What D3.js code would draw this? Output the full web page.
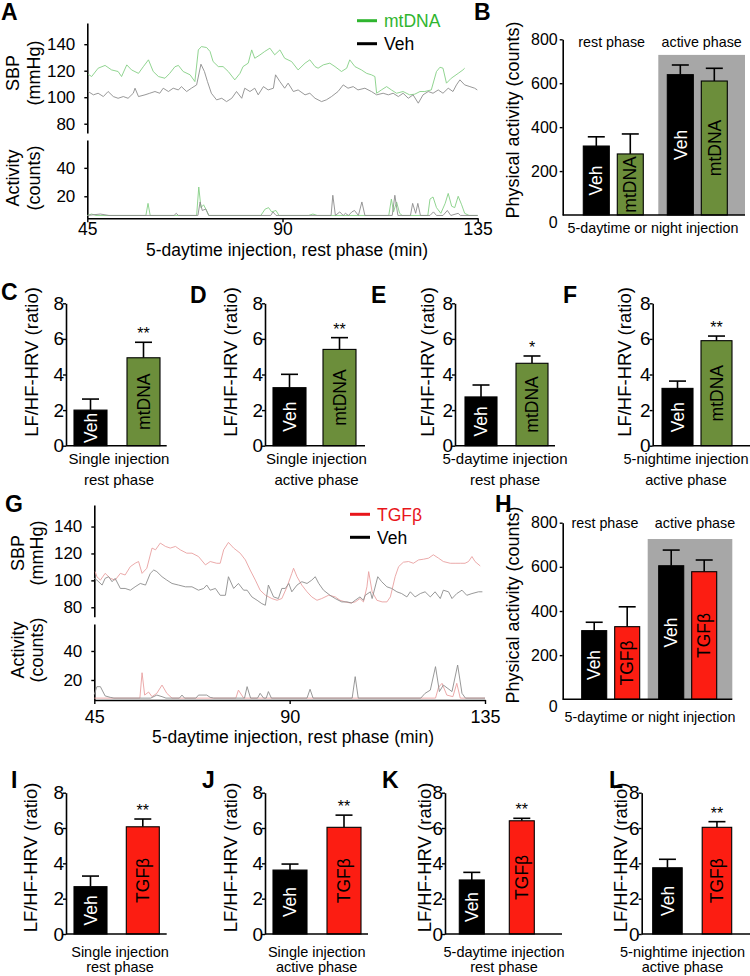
<!DOCTYPE html>
<html><head><meta charset="utf-8">
<script src="https://cdn.jsdelivr.net/npm/d3@7"></script>
<style>body{margin:0;background:#fff}svg text{font-family:"Liberation Sans",Arial,Helvetica,sans-serif}</style>
</head><body><svg id="fig" width="750" height="976"></svg>
<script>
// ---------------- DATA ----------------
const minuteTicks = [45, 90, 135];
const sbpTicks = [80, 100, 120, 140];
const actTicks = [20, 40];
// Panel A: SBP traces [minute, mmHg]
const mtdnaSBP = [[45.2,117.4],[46.0,115.6],[47.5,121.9],[49.1,124],[50.6,120.6],[52.1,119.4],[52.9,115.6],[54.1,124.4],[55.2,120.6],[56.8,118],[57.9,123],[59.1,128.2],[60.2,119.4],[61.4,115.6],[62.9,114.3],[64.0,118],[65.2,123],[66.0,124],[67.1,119.4],[68.7,116.9],[69.8,111.8],[70.6,135.7],[71.3,138.2],[72.5,137.5],[73.3,134.5],[74.0,126.9],[75.2,123.1],[76.3,123.1],[77.5,119.4],[79.0,113.1],[80.2,118],[80.9,123.1],[82.1,125.7],[82.9,135.7],[83.6,129.4],[84.8,131.9],[85.9,134.5],[87.1,137],[88.2,132],[89.4,135.7],[90.5,129.4],[92.1,126.9],[93.6,120.6],[95.2,125.7],[96.3,128.2],[97.5,123.1],[98.2,121.9],[99.4,124.4],[100.9,125.7],[102.1,123.1],[103.6,119.4],[104.8,121.9],[105.5,128.2],[106.7,123.1],[108.2,120.6],[109.4,118],[110.5,116.9],[111.3,115.6],[111.7,103],[112.8,105.5],[114.0,108],[115.1,105.5],[116.3,103],[117.8,104.3],[119.3,101.8],[120.5,102.3],[121.7,104.3],[122.8,104.3],[124.3,105.5],[125.5,119.4],[126.3,122.6],[127.0,121.9],[127.8,110.6],[128.9,114.3],[130.5,118],[131.6,120.6],[132.0,121.9]];
const vehSBP_A = [[45.2,104.3],[46.4,101.8],[47.5,103],[48.7,100.5],[49.8,104.3],[51.0,100.5],[52.1,99.2],[53.3,100.5],[54.4,99.2],[55.6,103],[56.0,106.8],[56.8,100.5],[58.3,101.8],[59.4,103],[60.6,104.3],[61.7,103],[62.5,106.8],[63.7,104.3],[64.8,106.8],[66.0,105.5],[66.7,108],[67.9,104.3],[69.0,106.8],[70.2,109.3],[71.2,124.9],[72.0,119.4],[72.7,111.8],[73.6,103],[74.8,98],[76.0,99.2],[77.1,96.7],[78.3,99.2],[79.4,104.3],[80.6,99.2],[81.3,106.8],[82.5,104.3],[83.6,106.8],[84.4,101.8],[85.6,108],[86.7,105.5],[87.9,106.8],[88.4,116.9],[89.4,111.8],[90.5,106.8],[91.3,110.6],[92.5,104.3],[93.6,105.5],[95.2,101.8],[96.3,103],[97.5,99.2],[99.0,96.7],[100.1,98],[101.3,100.5],[102.8,104.3],[104.0,109.3],[105.1,106.8],[106.3,108],[107.4,105.5],[109.0,106.8],[110.5,104.3],[111.7,101.8],[113.2,103],[114.4,101.8],[115.5,103],[116.7,100.5],[117.8,103],[119.0,99.2],[120.1,101.8],[121.3,95.5],[122.4,101.8],[123.6,104.3],[124.7,103],[125.9,105.5],[127.0,103],[128.2,106.8],[129.3,104.3],[130.1,109.3],[130.9,113.1],[132.0,109.3],[133.2,108],[134.3,106.8],[134.9,105.5]];
// Panel A: activity traces [minute, counts]
const mtdnaAct = [[45,6.5],[46,7.5],[47,6.5],[58.5,6.5],[59,15],[59.5,6.5],[70.2,6.5],[70.7,26.5],[71.2,12],[71.8,14],[72.5,10],[73,6.5],[85,6.5],[86,11],[86.8,12],[87.5,9],[88.5,10],[89.2,6.5],[96,6.5],[97,7.5],[98,6.5],[114.5,6.5],[115.1,18],[115.6,9],[116.3,16],[117,8],[117.6,6.5],[123.5,6.5],[124,18],[124.7,19.5],[125.5,12],[126.5,8],[127.5,15],[128.2,22],[129,13],[129.7,12],[130.5,20],[131.3,14],[132,8],[133,6.5],[135,6.5]];
const vehAct_A = [[45,6.5],[48,7.5],[50,6.5],[65,6.5],[65.5,8],[66,6.5],[70.5,6.5],[71,16],[71.5,10],[72.3,11],[73,6.5],[87.3,6.5],[87.8,9],[88.5,6.5],[101.2,6.5],[101.6,20.7],[102.2,6.5],[103.2,9],[104,6.5],[104.5,8],[105.2,6.5],[106,9],[106.6,10],[107.5,6.5],[108.3,16],[109,6.5],[115.3,6.5],[115.9,20.7],[116.6,6.5],[119.5,6.5],[120,15],[120.7,8],[121.2,15],[121.8,6.5],[124,6.5],[124.8,9],[125.5,6.5],[127,6.5],[128,10],[128.8,6.5],[130.5,8],[131,6.5],[135,6.5]];
// Panel G: SBP traces
const tgfSBP = [[45.2,106.5],[45.6,102.7],[46.4,100.2],[47.5,105.2],[48.7,101.5],[49.8,100.2],[51.0,105.2],[52.1,104],[53.3,110.2],[54.4,112.7],[55.2,114],[56.0,105.2],[57.1,109],[58.3,124],[59.1,122.7],[60.2,127.7],[61.4,125.2],[62.5,124],[63.7,125.2],[64.8,122.7],[66.3,120.2],[67.5,120.2],[69.0,117.7],[70.6,111.5],[71.7,114],[73.2,112.7],[74.0,112.7],[74.8,122.7],[75.9,128.2],[77.1,124],[78.6,120.2],[79.8,115.2],[80.9,107.7],[82.1,100.2],[83.2,92.7],[84.4,89],[85.9,86.5],[87.1,85.2],[88.2,86.5],[89.4,95.2],[90.5,105.2],[90.9,109],[91.7,102.7],[92.8,96.5],[94.0,91.5],[95.1,87.7],[96.3,85.2],[97.4,86.5],[99.0,89],[100.5,87.7],[101.6,85.2],[102.8,84],[104.0,83.2],[105.1,84],[106.2,86.5],[107.0,84],[107.8,95.2],[108.2,106.5],[109.0,91.5],[110.1,85.2],[111.3,84],[112.4,84],[113.2,87.7],[114.3,102.7],[115.1,110.2],[116.2,113.5],[117.4,114],[118.5,112.7],[119.7,115.2],[120.8,115.7],[122.0,116.5],[123.1,119],[124.3,116.5],[125.4,114],[127.0,112.7],[128.1,112.7],[129.3,112.7],[130.4,112.7],[131.2,114],[132.0,117.7],[132.7,114],[133.9,110.7]];
const vehSBP_G = [[45,101.5],[45.6,100.2],[46.8,96.5],[47.5,101.5],[48.3,102.7],[49.1,99],[49.8,101.5],[51.0,94],[52.1,94],[53.3,92.7],[54.4,95.2],[55.6,97.7],[56.8,96.5],[57.9,105.2],[58.7,107.7],[59.4,106.5],[60.6,102.7],[61.7,100.2],[62.9,97.7],[64.4,96.5],[66.0,95.2],[67.5,95.2],[69.0,92.7],[70.2,94],[70.9,96.5],[71.7,92.7],[72.9,94],[74.0,88.9],[75.2,88.9],[75.9,102.7],[77.1,94],[78.2,97.7],[79.4,92.7],[80.2,92.7],[81.3,87.7],[82.5,85.2],[83.6,82.7],[84.4,81.5],[85.1,96.5],[86.3,87.7],[87.4,86.5],[88.2,94],[89.0,94],[89.8,97.7],[90.5,91.5],[91.7,96.5],[92.8,99],[94.0,97.7],[95.1,100.2],[95.9,102.7],[96.7,97.7],[97.8,92.7],[99.3,88.9],[100.5,86.5],[102.0,84],[103.2,84],[104.3,83.2],[105.1,85.2],[106.2,87.7],[107.0,85.2],[107.4,88.9],[108.6,91.5],[109.0,86.5],[110.3,102.7],[111.2,99],[112.4,95.2],[113.5,94],[114.7,91.5],[115.8,90.2],[117.0,87.7],[117.8,91.5],[118.9,87.7],[120.1,90.2],[121.2,91.5],[122.4,87.7],[123.5,91.5],[124.7,86.5],[125.4,92.7],[126.6,91.5],[127.4,86.5],[128.5,90.2],[129.7,92.7],[130.8,88.9],[132.0,90.2],[133.5,91.5],[134.4,91.5]];
// Panel G: activity traces
const tgfAct = [[45,7.5],[55.5,7.5],[56.0,25],[56.6,9.6],[57.5,11.7],[58.3,8.5],[59.4,10.8],[60.6,16.5],[61.7,10.8],[62.9,7.5],[77.6,7.5],[78.2,13],[79.4,7.5],[123.6,7.5],[124.3,15],[125.1,17.7],[126.2,9.6],[127.6,8.5],[128.5,17.7],[129.3,7.5],[135,7.5]];
const vehAct_G = [[45,10],[45.6,15.4],[46.4,15.4],[47.5,9],[48.7,8],[49.5,7.5],[58,7.5],[59.4,9.6],[60.6,8.5],[61.5,7.5],[64.6,7.5],[65.2,9.6],[65.8,7.5],[68.4,7.5],[69.0,9.6],[70.9,9.6],[71.7,8],[72.5,7.5],[79.6,7.5],[80.2,15.4],[81,7.5],[82.6,7.5],[83.2,10.8],[84,7.5],[84.6,7.5],[85.1,12],[85.8,7.5],[94,7.5],[94.7,13.6],[95.4,7.5],[104.4,7.5],[105.1,22.3],[105.8,7.5],[120.2,7.5],[121.2,10.8],[122.4,13],[123.6,29.2],[124.5,12],[125.4,16.5],[127.4,12],[128.7,30.3],[129.7,10.8],[130.5,7.5],[135,7.5]];

// Panels B and H: physical activity (counts), mean and SEM per phase
const phases = ["rest phase", "active phase"];
const actTicksB = [0, 200, 400, 600, 800];
const bVehMean = [314, 639];
const bVehSem = [42, 44];
const bMtdnaMean = [278, 610];
const bMtdnaSem = [91, 58];
const hVehMean = [311, 605];
const hVehSem = [38, 71];
const hTgfMean = [329, 578];
const hTgfSem = [90, 53];
const activeShadeTop = [729, 726];

// Panels C-F, I-L: LF/HF-HRV ratio
const hrvLetters = ["C", "D", "E", "F", "I", "J", "K", "L"];
const hrvTreatment = ["mtDNA", "mtDNA", "mtDNA", "mtDNA", "TGFβ", "TGFβ", "TGFβ", "TGFβ"];
const hrvVehMean = [2.0, 3.26, 2.74, 3.22, 2.68, 3.62, 3.06, 3.75];
const hrvVehSem = [0.62, 0.75, 0.67, 0.41, 0.6, 0.34, 0.43, 0.48];
const hrvTrtMean = [4.94, 5.41, 4.63, 5.9, 6.07, 6.04, 6.41, 6.04];
const hrvTrtSem = [0.87, 0.66, 0.41, 0.26, 0.44, 0.69, 0.14, 0.32];
const hrvSig = ["**", "**", "*", "**", "**", "**", "**", "**"];
const hrvInjection = ["Single injection", "Single injection", "5-daytime injection", "5-nightime injection", "Single injection", "Single injection", "5-daytime injection", "5-nightime injection"];
const hrvPhase = ["rest phase", "active phase", "rest phase", "active phase", "rest phase", "active phase", "rest phase", "active phase"];
const hrvTicks = [0, 2, 4, 6, 8];

// ---------------- STYLE ----------------
const COLORS = {
  Veh: "#000000", mtDNA: "#6c8e3b", "TGFβ": "#fc1d12",
  vehLine: "#8c8c8c", mtLine: "#84cf84", tgfLine: "#e9a0a0",
  mtLegend: "#2fb52f", tgfLegend: "#e8161b", shade: "#a7a7a7"
};
const svg = d3.select("#fig");

function styleAxis(g, fs) {
  g.select(".domain").attr("stroke", "#000").attr("stroke-width", 1.6);
  g.selectAll(".tick line").attr("stroke", "#000").attr("stroke-width", 1.4);
  g.selectAll(".tick text").attr("font-size", fs).attr("fill", "#000")
    .attr("font-family", '"Liberation Sans",Arial,sans-serif');
}
function letter(t, x, y) {
  svg.append("text").attr("x", x).attr("y", y).attr("font-size", 23)
    .attr("font-weight", "bold").text(t);
}
function vtext(t, x, y, fs, fill) {
  svg.append("text").attr("transform", `translate(${x},${y}) rotate(-90)`)
    .attr("text-anchor", "middle").attr("font-size", fs).attr("fill", fill || "#000").text(t);
}
function htext(t, x, y, fs, fill, anchor) {
  svg.append("text").attr("x", x).attr("y", y).attr("text-anchor", anchor || "middle")
    .attr("font-size", fs).attr("fill", fill || "#000").text(t);
}

// ---------------- TRACE PANELS (A, G) ----------------
function tracePanel(o) {
  const x = d3.scaleLinear().domain([45, 135]).range([o.x0, o.x1]);
  const yS = d3.scaleLinear().domain([73, 156]).range([o.sBot, o.sTop]);
  const yA = d3.scaleLinear().domain(o.aDom).range([o.aBot, o.aTop]);
  const gS = svg.append("g").attr("transform", `translate(${o.x0},0)`)
    .call(d3.axisLeft(yS).tickValues(sbpTicks).tickSize(3).tickSizeOuter(0).tickPadding(9));
  styleAxis(gS, 17);
  const gA = svg.append("g").attr("transform", `translate(${o.x0},0)`)
    .call(d3.axisLeft(yA).tickValues(actTicks).tickSize(3).tickSizeOuter(0).tickPadding(9));
  styleAxis(gA, 17);
  const gX = svg.append("g").attr("transform", `translate(0,${o.aBot})`)
    .call(d3.axisBottom(x).tickValues(minuteTicks).tickSize(4).tickSizeOuter(0).tickPadding(o.xpad));
  styleAxis(gX, o.xfs);
  const lineS = d3.line().x(d => x(d[0])).y(d => yS(d[1]));
  const lineA = d3.line().x(d => x(d[0])).y(d => yA(d[1]));
  svg.append("path").datum(o.trtS).attr("d", lineS).attr("fill", "none").attr("stroke", o.trtLine).attr("stroke-width", 0.9);
  svg.append("path").datum(o.vehS).attr("d", lineS).attr("fill", "none").attr("stroke", COLORS.vehLine).attr("stroke-width", 0.9);
  svg.append("path").datum(o.trtA).attr("d", lineA).attr("fill", "none").attr("stroke", o.trtLine).attr("stroke-width", 0.9);
  svg.append("path").datum(o.vehA).attr("d", lineA).attr("fill", "none").attr("stroke", COLORS.vehLine).attr("stroke-width", 0.9);
  // legend
  svg.append("line").attr("x1", o.lgx).attr("x2", o.lgx + 20).attr("y1", o.lgy).attr("y2", o.lgy).attr("stroke", o.lgColor).attr("stroke-width", 3);
  htext(o.trtName, o.lgx + 27, o.lgy + 6.3, 17.5, o.lgColor, "start");
  svg.append("line").attr("x1", o.lgx).attr("x2", o.lgx + 20).attr("y1", o.lgy + 23).attr("y2", o.lgy + 23).attr("stroke", "#000").attr("stroke-width", 3);
  htext("Veh", o.lgx + 27, o.lgy + 29.3, 17.5, "#000", "start");
  // axis titles
  vtext("SBP", o.lab1x, o.sbpCy, 18);
  vtext("(mmHg)", o.lab2x, o.sbpCy, 18);
  vtext("Activity", o.lab1x, o.actCy, 18);
  vtext("(counts)", o.lab2x, o.actCy, 18);
  htext("5-daytime injection, rest phase (min)", o.titleX, o.titleY, 17.5);
}
tracePanel({x0: 87.3, x1: 477.7, sTop: 23, sBot: 133, aDom: [4.5, 59.6], aTop: 140, aBot: 218.3, xpad: 0.5, xfs: 17.5,
  trtS: mtdnaSBP, vehS: vehSBP_A, trtA: mtdnaAct, vehA: vehAct_A, trtLine: COLORS.mtLine,
  lgx: 357, lgy: 20.7, lgColor: COLORS.mtLegend, trtName: "mtDNA",
  lab1x: 18.5, lab2x: 40, sbpCy: 73, actCy: 178, titleX: 287, titleY: 256});
tracePanel({x0: 94.3, x1: 485, sTop: 505, sBot: 616.7, aDom: [6.2, 58.6], aTop: 624, aBot: 700, xpad: 6, xfs: 18,
  trtS: tgfSBP, vehS: vehSBP_G, trtA: tgfAct, vehA: vehAct_G, trtLine: COLORS.tgfLine,
  lgx: 350, lgy: 514.3, lgColor: COLORS.tgfLegend, trtName: "TGFβ",
  lab1x: 24, lab2x: 43, sbpCy: 553, actCy: 650, titleX: 293, titleY: 743});
letter("A", 1, 20);
letter("G", 5, 512);

// ---------------- ACTIVITY BAR PANELS (B, H) ----------------
function activityPanel(o) {
  const y = d3.scaleLinear().domain([0, 800]).range([o.y0, o.y1]);
  const xg = d3.scaleBand().domain(phases).range([o.gx0, o.gx1]).paddingInner(o.gpi);
  const xi = d3.scaleBand().domain(["Veh", o.trt]).range([0, xg.bandwidth()]).paddingInner(o.ipi);
  svg.append("rect").attr("x", o.boxX0).attr("width", o.axEnd - o.boxX0)
    .attr("y", y(o.shadeTop)).attr("height", y(0) - y(o.shadeTop)).attr("fill", COLORS.shade);
  const rows = [];
  phases.forEach((p, i) => {
    rows.push({p, t: "Veh", m: o.vehMean[i], s: o.vehSem[i]});
    rows.push({p, t: o.trt, m: o.trtMean[i], s: o.trtSem[i]});
  });
  rows.forEach(r => {
    const bx = xg(r.p) + xi(r.t), bw = xi.bandwidth(), cx = bx + bw / 2;
    svg.append("line").attr("x1", cx).attr("x2", cx).attr("y1", y(r.m)).attr("y2", y(r.m + r.s)).attr("stroke", "#000").attr("stroke-width", 1.6);
    svg.append("line").attr("x1", cx - 8.5).attr("x2", cx + 8.5).attr("y1", y(r.m + r.s)).attr("y2", y(r.m + r.s)).attr("stroke", "#000").attr("stroke-width", 1.6);
    svg.append("rect").attr("x", bx).attr("width", bw).attr("y", y(r.m)).attr("height", y(0) - y(r.m))
      .attr("fill", COLORS[r.t]).attr("stroke", "#000").attr("stroke-width", 1.1);
    vtext(r.t, cx + 6.2, (y(r.m) + y(0)) / 2, 17.5, r.t === "Veh" ? "#fff" : "#000");
  });
  const g = svg.append("g").attr("transform", `translate(${o.ax},0)`)
    .call(d3.axisLeft(y).tickValues(actTicksB).tickSize(3).tickSizeOuter(0).tickPadding(2));
  styleAxis(g, 16);
  g.selectAll(".tick").filter(d => d === 0).select("text").attr("transform", "translate(0,7)");
  g.selectAll(".tick").filter(d => d === 0).select("line").remove();
  svg.append("line").attr("x1", o.ax).attr("x2", o.axEnd).attr("y1", y(0)).attr("y2", y(0)).attr("stroke", "#000").attr("stroke-width", 1.6);
  phases.forEach((p, i) => htext(p, o.phaseX[i], o.phaseY, 14.3));
  htext("5-daytime or night injection", o.titleX, o.titleY, 14.3);
  vtext("Physical activity (counts)", o.ytx, o.yty, 18);
}
activityPanel({y0: 215, y1: 39.3, ax: 562.7, axEnd: 745, gx0: 583.3, gx1: 727.3, gpi: 0.286, ipi: 0.235,
  trt: "mtDNA", vehMean: bVehMean, vehSem: bVehSem, trtMean: bMtdnaMean, trtSem: bMtdnaSem,
  boxX0: 658.3, shadeTop: activeShadeTop[0], phaseX: [611.7, 701.7], phaseY: 47, titleX: 653, titleY: 233, ytx: 519, yty: 120});
activityPanel({y0: 699.3, y1: 522.7, ax: 562.7, axEnd: 732.3, gx0: 581.7, gx1: 716.7, gpi: 0.247, ipi: 0.242,
  trt: "TGFβ", vehMean: hVehMean, vehSem: hVehSem, trtMean: hTgfMean, trtSem: hTgfSem,
  boxX0: 647.7, shadeTop: activeShadeTop[1], phaseX: [605, 695], phaseY: 528, titleX: 650, titleY: 722, ytx: 519, yty: 605});
letter("B", 474, 20);
letter("H", 495, 512);

// ---------------- HRV PANELS ----------------
const hrvLayout = [
  {ax: 66, end: 166.7, top: 303.3, bot: 445.7, b0: 74, b1: 160, bw: 33, lx: 1, ly: 300, tx: 37.5, ty: 362, sx: 119, s1: 464, s2: 485, fs: 15},
  {ax: 265, end: 365, top: 303.3, bot: 445.7, b0: 273, b1: 356, bw: 33, lx: 190, ly: 303, tx: 237, ty: 362, sx: 316.5, s1: 464, s2: 485, fs: 15},
  {ax: 455, end: 555, top: 303.3, bot: 445.7, b0: 465, b1: 548, bw: 32, lx: 371, ly: 303, tx: 434, ty: 362, sx: 505, s1: 464, s2: 485, fs: 15},
  {ax: 652.7, end: 750, top: 303.3, bot: 445.7, b0: 662, b1: 732, bw: 31, lx: 563, ly: 303, tx: 630.5, ty: 362, sx: 686, s1: 464, s2: 485, fs: 14.5},
  {ax: 66, end: 166.7, top: 792.7, bot: 934, b0: 74, b1: 159.3, bw: 33, lx: 11, ly: 788, tx: 37, ty: 857.5, sx: 120, s1: 956.5, s2: 972, fs: 14.5},
  {ax: 265, end: 368, top: 792.7, bot: 934, b0: 273, b1: 361, bw: 34, lx: 202, ly: 788, tx: 237, ty: 857.5, sx: 316.7, s1: 956.5, s2: 972, fs: 14.5},
  {ax: 445, end: 562, top: 792.7, bot: 934, b0: 459.3, b1: 534.3, bw: 25, lx: 382, ly: 788, tx: 430.5, ty: 857.5, sx: 504, s1: 956.5, s2: 972, fs: 14.5},
  {ax: 641.7, end: 750, top: 792.7, bot: 934, b0: 652.7, b1: 731.7, bw: 29.5, lx: 609, ly: 788, tx: 627, ty: 857.5, sx: 682.5, s1: 956.5, s2: 972, fs: 14.5}
];
hrvLetters.forEach((L, i) => {
  const o = hrvLayout[i];
  const trt = hrvTreatment[i];
  const y = d3.scaleLinear().domain([0, 8]).range([o.bot, o.top]);
  const T = o.b1 - o.b0, step = T - o.bw;
  const x = d3.scaleBand().domain(["Veh", trt]).range([o.b0, o.b1]).paddingInner(1 - o.bw / step).paddingOuter(0);
  const rows = [{t: "Veh", m: hrvVehMean[i], s: hrvVehSem[i]}, {t: trt, m: hrvTrtMean[i], s: hrvTrtSem[i]}];
  rows.forEach(r => {
    const bx = x(r.t), bw = x.bandwidth(), cx = bx + bw / 2;
    svg.append("line").attr("x1", cx).attr("x2", cx).attr("y1", y(r.m)).attr("y2", y(r.m + r.s)).attr("stroke", "#000").attr("stroke-width", 1.6);
    svg.append("line").attr("x1", cx - 8.5).attr("x2", cx + 8.5).attr("y1", y(r.m + r.s)).attr("y2", y(r.m + r.s)).attr("stroke", "#000").attr("stroke-width", 1.6);
    svg.append("rect").attr("x", bx).attr("width", bw).attr("y", y(r.m)).attr("height", y(0) - y(r.m))
      .attr("fill", COLORS[r.t]).attr("stroke", "#000").attr("stroke-width", 1.1);
    vtext(r.t, cx + 6.2, (y(r.m) + y(0)) / 2, 17.5, r.t === "Veh" ? "#fff" : "#000");
  });
  const cxT = x(trt) + x.bandwidth() / 2;
  htext(hrvSig[i], cxT, y(hrvTrtMean[i] + hrvTrtSem[i]) - 3, 16);
  const g = svg.append("g").attr("transform", `translate(${o.ax},0)`)
    .call(d3.axisLeft(y).tickValues(hrvTicks).tickSize(3).tickSizeOuter(0).tickPadding(-1));
  styleAxis(g, 19);
  svg.append("line").attr("x1", o.ax).attr("x2", o.end).attr("y1", y(0)).attr("y2", y(0)).attr("stroke", "#000").attr("stroke-width", 1.6);
  vtext("LF/HF-HRV (ratio)", o.tx, o.ty, 18.5);
  htext(hrvInjection[i], o.sx, o.s1, o.fs);
  htext(hrvPhase[i], o.sx, o.s2, o.fs);
  letter(L, o.lx, o.ly);
});
</script></body></html>
